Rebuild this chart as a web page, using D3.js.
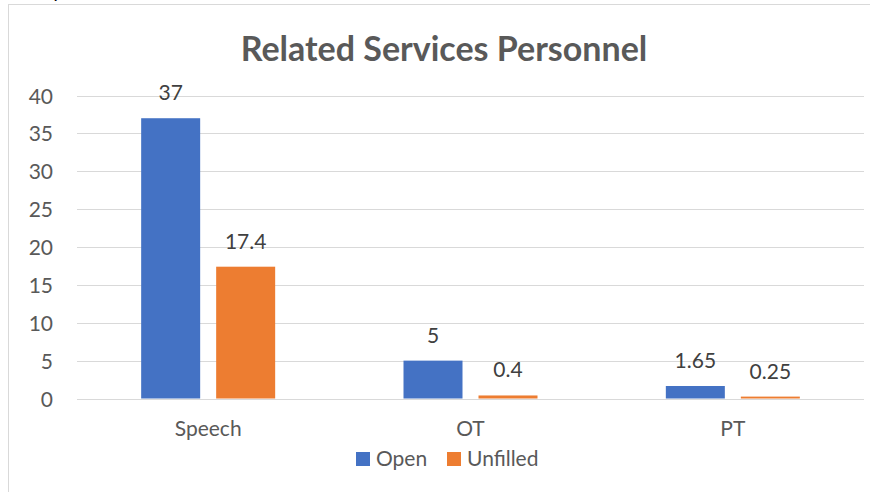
<!DOCTYPE html>
<html>
<head>
<meta charset="utf-8">
<script src="https://cdn.jsdelivr.net/npm/d3@7"></script>
<style>
  html, body { margin: 0; padding: 0; background: #fff; }
  svg { display: block; }
  text { font-family: Lato, "Open Sans", sans-serif; }
</style>
</head>
<body>
<svg id="chart" width="870" height="492"></svg>
<script>
const title = "Related Services Personnel";
const categories = ["Speech", "OT", "PT"];
const seriesNames = ["Open", "Unfilled"];
const openValues = [37, 5, 1.65];
const unfilledValues = [17.4, 0.4, 0.25];
const yTicks = [0, 5, 10, 15, 20, 25, 30, 35, 40];
const colors = ["#4472C4", "#ED7D31"];

const svg = d3.select("#chart");
const labelSize = 21;

// chart frame (extends past right/bottom edges)
svg.append("rect")
  .attr("x", 8.5).attr("y", 4.5)
  .attr("width", 900).attr("height", 600)
  .attr("fill", "#fff").attr("stroke", "#d9d9d9").attr("stroke-width", 1);

// fragment of text above frame
svg.append("text").attr("x", 52).attr("y", -2)
  .attr("font-size", 20).attr("fill", "#000").text("y");

const plot = { left: 77, right: 864, top: 95.5, bottom: 398.5 };

const y = d3.scaleLinear().domain([0, 40]).range([plot.bottom, plot.top]);
const x0 = d3.scaleBand().domain(categories).range([plot.left, plot.right]).padding(0);
const x1 = d3.scaleBand().domain(seriesNames).range([0, 134]).paddingInner(0.2133).paddingOuter(0);

// gridlines
svg.append("g").selectAll("line").data(yTicks).join("line")
  .attr("x1", plot.left).attr("x2", plot.right)
  .attr("y1", d => Math.round(y(d)) + 0.5).attr("y2", d => Math.round(y(d)) + 0.5)
  .attr("stroke", "#d9d9d9").attr("stroke-width", 1);

// y axis labels
const yAxis = d3.axisLeft(y).tickValues(yTicks).tickSize(0).tickPadding(0).tickFormat(d3.format("d"));
const gy = svg.append("g").attr("transform", "translate(53,0)").call(yAxis);
gy.select(".domain").remove();
gy.selectAll("text").attr("font-size", labelSize).attr("fill", "#595959")
  .attr("font-family", "Lato, sans-serif").attr("dy", "0.36em");

// x axis labels
const xAxis = d3.axisBottom(x0).tickSize(0).tickPadding(0);
const gx = svg.append("g").attr("transform", "translate(0,436)").call(xAxis);
gx.select(".domain").remove();
gx.selectAll("text").attr("font-size", labelSize).attr("fill", "#595959")
  .attr("font-family", "Lato, sans-serif").attr("dy", 0);

const data = categories.map((c, i) => ({
  cat: c,
  vals: [ { s: "Open", v: openValues[i] }, { s: "Unfilled", v: unfilledValues[i] } ]
}));

const groups = svg.append("g").selectAll("g").data(data).join("g")
  .attr("transform", d => `translate(${x0(d.cat) + (x0.bandwidth() - 134) / 2},0)`);

groups.selectAll("rect").data(d => d.vals).join("rect")
  .attr("x", d => x1(d.s))
  .attr("width", x1.bandwidth())
  .attr("y", d => y(d.v))
  .attr("height", d => y(0) - y(d.v))
  .attr("fill", (d, i) => colors[i]);

groups.selectAll("text.lbl").data(d => d.vals).join("text")
  .attr("class", "lbl")
  .attr("x", d => x1(d.s) + x1.bandwidth() / 2)
  .attr("y", d => y(d.v) - 18)
  .attr("text-anchor", "middle")
  .attr("font-size", labelSize).attr("fill", "#404040")
  .text(d => String(d.v));

// title
svg.append("text").attr("x", 444).attr("y", 61)
  .attr("text-anchor", "middle").attr("font-size", 34).attr("font-weight", "bold")
  .attr("fill", "#595959").text(title);

// legend
const legend = svg.append("g");
const legendX = [356, 447];
seriesNames.forEach((s, i) => {
  legend.append("rect").attr("x", legendX[i]).attr("y", 452).attr("width", 14).attr("height", 14).attr("fill", colors[i]);
  legend.append("text").attr("x", legendX[i] + 20).attr("y", 466)
    .attr("font-size", labelSize).attr("fill", "#595959").text(s);
});
</script>
</body>
</html>
